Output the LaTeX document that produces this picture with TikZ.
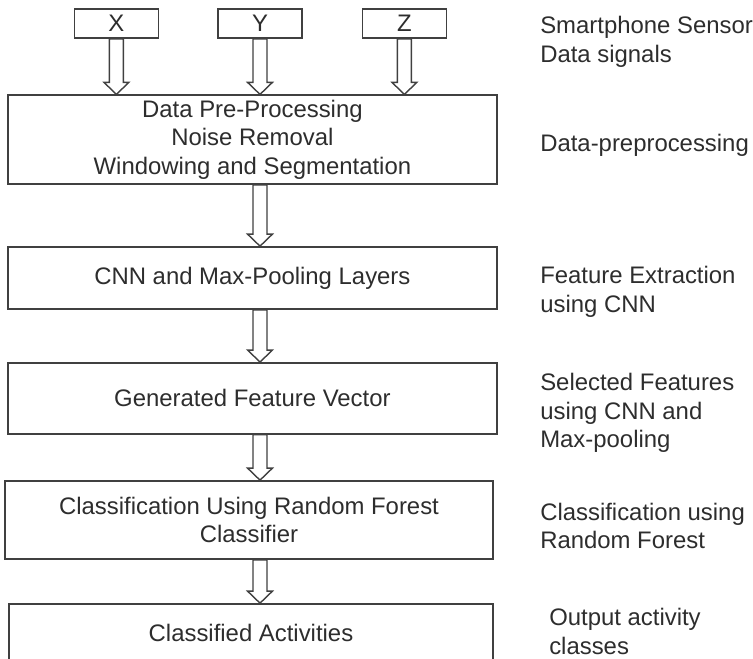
\documentclass[tikz,border=0pt]{standalone}
\usepackage{fontspec}
\setmainfont{Liberation Sans}
\usepackage{tikz}
\usetikzlibrary{calc}
\definecolor{LineGray}{RGB}{64,64,64}
\definecolor{TextGray}{RGB}{45,45,45}

% hollow block arrow, drawn straight down from #1 to #2
\newcommand{\hollowarrow}[2]{%
  \draw[hollow] let \p1=(#1), \p2=(#2) in
    ({\x1-0.175cm},\y1) -- ({\x1-0.175cm},{\y2+0.3cm})
    -- ({\x1-0.31cm},{\y2+0.3cm}) -- (\x1,\y2)
    -- ({\x1+0.31cm},{\y2+0.3cm}) -- ({\x1+0.175cm},{\y2+0.3cm})
    -- ({\x1+0.175cm},\y1) -- cycle;}

\begin{document}
\begin{tikzpicture}[
            box/.style={rectangle, draw=LineGray, line width=1.2pt,
                        minimum width=12.225cm, align=center, text=TextGray,
                        font=\fontsize{17}{20.3}\selectfont},
            axis/.style={box, minimum width=2.1cm, minimum height=0.725cm,
                         inner sep=0pt},
            lbl/.style={anchor=west, align=left, inner sep=0pt, text=TextGray,
                        font=\fontsize{17}{20.3}\selectfont},
            hollow/.style={draw=LineGray, line width=1pt, fill=white,
                           line join=miter}
          ]
          \useasboundingbox (0,0) rectangle (18.825,-16.45);

          % Sensor axes
          \node[axis] (x) at (2.91, -0.59)  {X};
          \node[axis] (y) at (6.5, -0.59)   {Y};
          \node[axis] (z) at (10.11, -0.59) {Z};

          % Pipeline
          \node[box, minimum height=1.975cm] (pre) at (6.31, -3.49)
                {Data Pre-Processing\\Noise Removal\\Windowing and Segmentation};
          \node[box, minimum height=1.55cm] (cnn) at (6.31, -6.95)
                {CNN and Max-Pooling Layers};
          \node[box, minimum height=1.775cm] (vec) at (6.31, -9.96)
                {Generated Feature Vector};
          \node[box, minimum height=1.95cm, minimum width=12.2cm] (rf) at (6.225, -13.0)
                {Classification Using Random Forest\\Classifier};
          \node[box, minimum height=1.45cm, minimum width=12.1cm] (out) at (6.275, -15.825)
                {Classified Activities};

          \hollowarrow{x.south}{x.south |- pre.north}
          \hollowarrow{y.south}{y.south |- pre.north}
          \hollowarrow{z.south}{z.south |- pre.north}
          \hollowarrow{y |- pre.south}{y |- cnn.north}
          \hollowarrow{y |- cnn.south}{y |- vec.north}
          \hollowarrow{y |- vec.south}{y |- rf.north}
          \hollowarrow{y |- rf.south}{y |- out.north}

          % Stage labels
          \node[lbl] (sens) at (13.5, -1.05)   {Smartphone Sensor\\Data signals};
          \node[lbl] (prel) at (13.5, -3.625)  {Data-preprocessing};
          \node[lbl] (feat) at (13.5, -7.3)    {Feature Extraction\\using CNN};
          \node[lbl] (sel)  at (13.5, -10.325) {Selected Features\\using CNN and\\Max-pooling};
          \node[lbl] (cls)  at (13.5, -13.15)  {Classification using\\Random Forest};
          \node[lbl] (outl) at (13.725, -15.78) {Output activity\\classes};
        \end{tikzpicture}
\end{document}
